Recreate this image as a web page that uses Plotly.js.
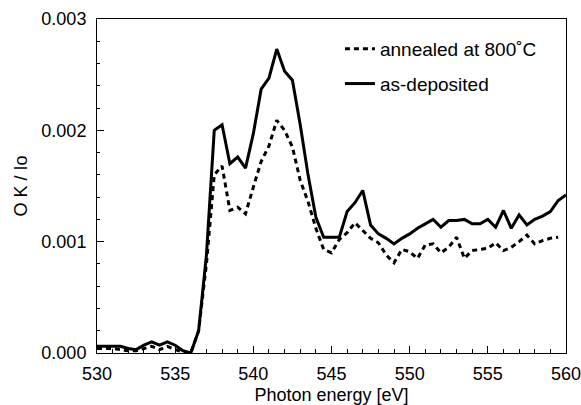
<!DOCTYPE html>
<html>
<head>
<meta charset="utf-8">
<script src="https://cdn.plot.ly/plotly-3.0.1.min.js"></script>
<style>html,body{margin:0;padding:0;background:#fff;}#chart{width:581px;height:405px;}</style>
</head>
<body>
<div id="chart"></div>
<script>
const energyAnnealed = [530,530.5,531,531.5,532,532.5,533,533.5,534,534.5,535,535.5,536,536.5,537,537.5,538,538.5,539,539.5,540,540.5,541,541.5,542,542.5,543,543.5,544,544.5,545,545.5,546,546.5,547,547.5,548,548.5,549,549.5,550,550.5,551,551.5,552,552.5,553,553.5,554,554.5,555,555.5,556,556.5,557,557.5,558,558.5,559,559.5];
const annealed = [0.00004,0.00004,0.00004,0.00003,0.00002,0.00002,0.00004,0.00006,0.00003,0.00006,0.00003,0.00001,0.0,0.0002,0.0008,0.0016,0.00168,0.00128,0.00131,0.00125,0.00149,0.00172,0.00186,0.00209,0.00200,0.00185,0.00155,0.00136,0.00112,0.00093,0.00090,0.00102,0.00108,0.00117,0.00110,0.00103,0.00099,0.00088,0.00081,0.00093,0.00091,0.00085,0.00097,0.00098,0.00090,0.00095,0.00104,0.00085,0.00092,0.00093,0.00094,0.00099,0.00092,0.00095,0.00100,0.00106,0.00098,0.00101,0.00103,0.00104];

const energyDeposited = [530,530.5,531,531.5,532,532.5,533,533.5,534,534.5,535,535.5,536,536.5,537,537.5,538,538.5,539,539.5,540,540.5,541,541.5,542,542.5,543,543.5,544,544.5,545,545.5,546,546.5,547,547.5,548,548.5,549,549.5,550,550.5,551,551.5,552,552.5,553,553.5,554,554.5,555,555.5,556,556.5,557,557.5,558,558.5,559,559.5,560];
const deposited = [0.00006,0.00006,0.00006,0.00006,0.00004,0.00003,0.00007,0.0001,0.00007,0.0001,0.00007,0.00002,0.0,0.0002,0.00088,0.0020,0.00205,0.0017,0.00176,0.00166,0.00197,0.00237,0.00247,0.00273,0.00253,0.00245,0.00205,0.00160,0.00122,0.00104,0.00104,0.00104,0.00127,0.00135,0.00146,0.00115,0.00107,0.00103,0.00098,0.00103,0.00107,0.00112,0.00116,0.00120,0.00113,0.00119,0.00119,0.00120,0.00116,0.00116,0.00120,0.00113,0.00128,0.00112,0.00124,0.00115,0.00120,0.00123,0.00127,0.00137,0.00142];

const seriesNames = ['annealed at 800\u02DAC', 'as-deposited'];
const xTicks = [530,535,540,545,550,555,560];
const yTicks = [0,0.001,0.002,0.003];

const FONT = 'Liberation Sans, Arial, Helvetica, sans-serif';

const traces = [
  {x: energyAnnealed, y: annealed, name: seriesNames[0], mode: 'lines', legendgroup: 'a',
   line: {color: '#000', width: 3, dash: '5px,4px'}},
  {x: energyDeposited, y: deposited, name: seriesNames[1], mode: 'lines', legendgroup: 'b',
   line: {color: '#000', width: 3}}
];

const layout = {
  width: 581, height: 405,
  margin: {l: 97, r: 15, t: 19, b: 52},
  paper_bgcolor: '#fff', plot_bgcolor: '#fff',
  font: {family: FONT, size: 18, color: '#000'},
  showlegend: true,
  legend: {x: 0.518, y: 0.967, xanchor: 'left', yanchor: 'top', bgcolor: 'rgba(0,0,0,0)',
           traceorder: 'grouped', tracegroupgap: 7, font: {size: 19, family: FONT}},
  xaxis: {
    range: [530, 560], tickvals: xTicks, ticktext: xTicks.map(String),
    ticks: 'inside', ticklen: 7, tickcolor: '#000', tickwidth: 1,
    minor: {dtick: 1, ticks: 'inside', ticklen: 4, tickcolor: '#000'},
    showline: true, linecolor: '#000', linewidth: 1, mirror: true,
    showgrid: false, zeroline: false,
    ticklabelstandoff: 4, ticklabeloverflow: 'allow',
    tickfont: {size: 18},
    title: {text: 'Photon energy [eV]', font: {size: 18}, standoff: 6}
  },
  yaxis: {
    range: [0, 0.003], tickvals: yTicks, ticktext: yTicks.map(v => v.toFixed(3)),
    ticks: 'inside', ticklen: 7, tickcolor: '#000', tickwidth: 1,
    minor: {dtick: 0.0002, ticks: 'inside', ticklen: 3, tickcolor: '#000'},
    showline: true, linecolor: '#000', linewidth: 1, mirror: true,
    showgrid: false, zeroline: false,
    ticklabelstandoff: 6, ticklabeloverflow: 'allow',
    tickfont: {size: 18},
    title: {text: 'O K / Io', font: {size: 18}, standoff: 9}
  }
};

Plotly.newPlot('chart', traces, layout, {displayModeBar: false, staticPlot: true});
</script>
</body>
</html>
